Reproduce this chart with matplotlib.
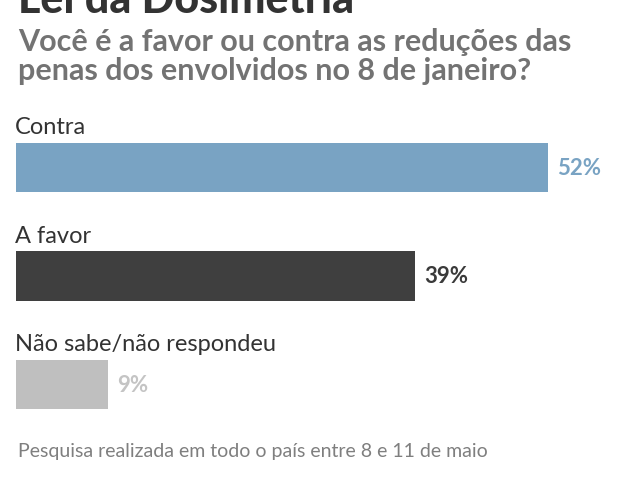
import matplotlib
matplotlib.use('Agg')
import matplotlib.pyplot as plt

# ----- Data
categories = ['Contra', 'A favor', 'Não sabe/não respondeu']
values = [52, 39, 9]
value_labels = ['52%', '39%', '9%']
bar_colors = ['#79a3c3', '#3f3f3f', '#bfbfbf']
value_colors = ['#79a3c3', '#3a3a3a', '#c4c4c4']

title = 'Lei da Dosimetria'
subtitle_lines = ['Você é a favor ou contra as reduções das',
                  'penas dos envolvidos no 8 de janeiro?']
footer = 'Pesquisa realizada em todo o país entre 8 e 11 de maio'

plt.rcParams['font.family'] = ['Lato', 'DejaVu Sans']

W, H = 640, 481
fig = plt.figure(figsize=(W / 100, H / 100), dpi=100)
fig.patch.set_facecolor('white')

# axes: x from 16px, 60% -> 614px ; y from bar top 144 to bar bottom 410
ax = fig.add_axes([16 / W, (H - 410) / H, 614 / W, 266 / H])
bar_h = 0.452
pos = list(range(len(categories)))
ax.barh(pos, values, height=bar_h, color=bar_colors)
ax.set_xlim(0, 60)
ax.set_ylim(2 + bar_h / 2, -bar_h / 2)
ax.axis('off')

for i, (cat, v, lab, c) in enumerate(zip(categories, values, value_labels, value_colors)):
    ax.annotate(cat, xy=(0, i - bar_h / 2), xytext=(-1, 7), textcoords='offset points',
                ha='left', va='baseline', fontsize=17, color='#333333')
    ax.annotate(lab, xy=(v, i), xytext=(6.5, 0), textcoords='offset points',
                ha='left', va='center', fontsize=16, color=c, fontweight='bold')

fig.text(18 / W, 1 - 13 / H, title, ha='left', va='baseline', fontsize=31,
         fontweight='black', color='#333333')
for k, line in enumerate(subtitle_lines):
    fig.text(18 / W, 1 - (51 + 29 * k) / H, line, ha='left', va='baseline', fontsize=22,
             fontweight='bold', color='#737373')
fig.text(18 / W, 1 - 452 / H, footer, ha='left', va='center', fontsize=14,
         color='#7f7f7f')

fig.savefig('out.png', dpi=100, facecolor='white')
